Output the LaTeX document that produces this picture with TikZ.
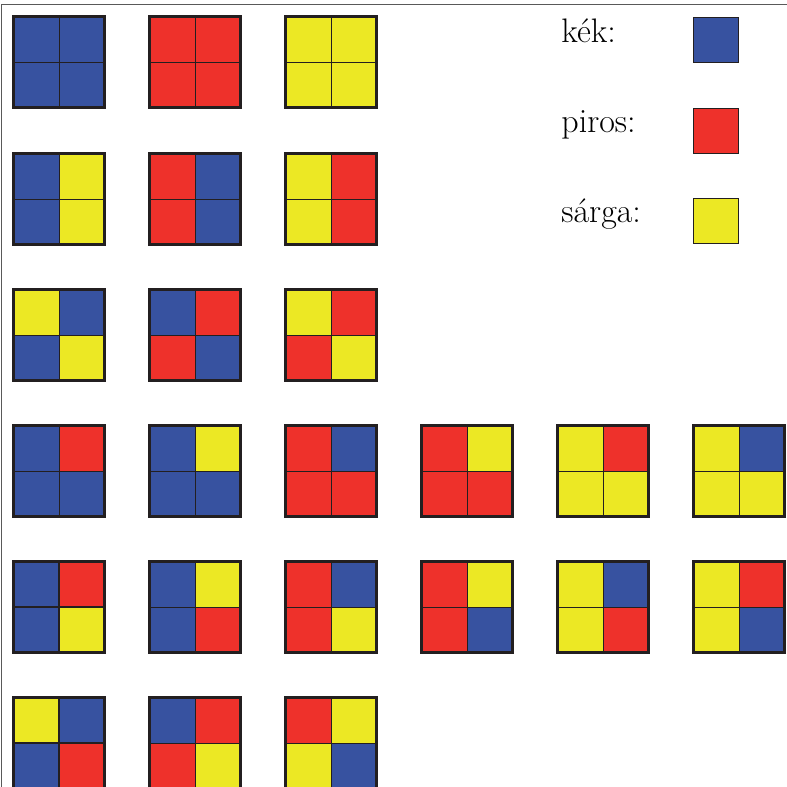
\documentclass[tikz,border=0pt]{standalone}
\usetikzlibrary{positioning}
\definecolor{kek}{RGB}{55,82,160}
\definecolor{piros}{RGB}{238,49,43}
\definecolor{sarga}{RGB}{236,232,36}
\definecolor{keret}{RGB}{35,31,32}
% one 2x2 tile: [cross width] {top-left corner} {TL} {TR} {BL} {BR}
\newcommand{\tile}[6][0.5pt]{%
  \begin{scope}[shift={#2}]
    \fill[#3] (1.5,1.5) rectangle (47,47);
    \fill[#4] (47,1.5) rectangle (92.5,47);
    \fill[#5] (1.5,47) rectangle (47,92.5);
    \fill[#6] (47,47) rectangle (92.5,92.5);
    \draw[keret,line width=#1] (47,1.5) -- (47,92.5) (1.5,47) -- (92.5,47);
    \draw[keret,line width=1.5pt] (1.5,1.5) rectangle (92.5,92.5);
  \end{scope}}

\begin{document}
\begin{tikzpicture}[x=0.5pt,y=-0.5pt]
\useasboundingbox (0,0) rectangle (787,787);
\clip (0,0) rectangle (787,787);
% frame
\draw[line width=0.6pt,black!65] (1.2,800) -- (1.2,4.2) -- (800,4.2);

% one colour
\tile{(12,15)}{kek}{kek}{kek}{kek}
\tile{(148,15)}{piros}{piros}{piros}{piros}
\tile{(284,15)}{sarga}{sarga}{sarga}{sarga}
% two colours, halves
\tile{(12,152)}{kek}{sarga}{kek}{sarga}
\tile{(148,152)}{piros}{kek}{piros}{kek}
\tile{(284,152)}{sarga}{piros}{sarga}{piros}
% two colours, diagonal
\tile{(12,288)}{sarga}{kek}{kek}{sarga}
\tile{(148,288)}{kek}{piros}{piros}{kek}
\tile{(284,288)}{sarga}{piros}{piros}{sarga}
% three of one colour
\tile{(12,424)}{kek}{piros}{kek}{kek}
\tile{(148,424)}{kek}{sarga}{kek}{kek}
\tile{(284,424)}{piros}{kek}{piros}{piros}
\tile{(420,424)}{piros}{sarga}{piros}{piros}
\tile{(556,424)}{sarga}{piros}{sarga}{sarga}
\tile{(692,424)}{sarga}{kek}{sarga}{sarga}
% three colours
\tile[1.4pt]{(12,560)}{kek}{piros}{kek}{sarga}
\tile{(148,560)}{kek}{sarga}{kek}{piros}
\tile{(284,560)}{piros}{kek}{piros}{sarga}
\tile{(420,560)}{piros}{sarga}{piros}{kek}
\tile{(556,560)}{sarga}{kek}{sarga}{piros}
\tile{(692,560)}{sarga}{piros}{sarga}{kek}
\tile[1.4pt]{(12,696)}{sarga}{kek}{kek}{piros}
\tile{(148,696)}{kek}{piros}{piros}{sarga}
\tile{(284,696)}{piros}{sarga}{sarga}{kek}

% legend
\node[anchor=base west,inner sep=0pt,font=\fontsize{17}{20}\selectfont] (kekl) at (561,42) {kék:};
\node[anchor=base west,inner sep=0pt,font=\fontsize{17}{20}\selectfont] (pirosl) at (561,132) {piros:};
\node[anchor=base west,inner sep=0pt,font=\fontsize{17}{20}\selectfont] (sargal) at (561,222) {sárga:};
\fill[kek,draw=keret,line width=0.5pt] (693.5,17.5) rectangle (738.5,62.5);
\fill[piros,draw=keret,line width=0.5pt] (693.5,108.5) rectangle (738.5,153.5);
\fill[sarga,draw=keret,line width=0.5pt] (693.5,198.5) rectangle (738.5,243.5);
\end{tikzpicture}
\end{document}
